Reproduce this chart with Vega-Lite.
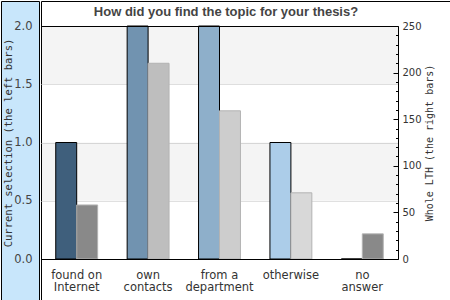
{
  "$schema": "https://vega.github.io/schema/vega-lite/v6.json",
  "padding": 0,
  "autosize": {"type": "pad"},
  "spacing": 0,
  "datasets": {
    "bars": [
      {"category": "found on Internet", "side": "current", "value": 1},
      {"category": "found on Internet", "side": "lth", "value": 58},
      {"category": "own contacts", "side": "current", "value": 3},
      {"category": "own contacts", "side": "lth", "value": 210},
      {"category": "from a department", "side": "current", "value": 3},
      {"category": "from a department", "side": "lth", "value": 159},
      {"category": "otherwise", "side": "current", "value": 1},
      {"category": "otherwise", "side": "lth", "value": 71},
      {"category": "no answer", "side": "current", "value": 0},
      {"category": "no answer", "side": "lth", "value": 27}
    ],
    "stripes": [
      {"lo": 1.5, "hi": 2},
      {"lo": 0.5, "hi": 1}
    ]
  },
  "hconcat": [
    {
      "width": 38,
      "height": 299,
      "view": {"fill": "#c8e6fb", "stroke": "black"},
      "data": {"name": "bars"},
      "mark": {"type": "point", "opacity": 0},
      "encoding": {
        "y": {
          "field": "value",
          "type": "quantitative",
          "scale": {"domain": [0, 2], "range": [258, 25], "clamp": true},
          "axis": {
            "orient": "left",
            "offset": -38,
            "values": [0, 0.5, 1, 1.5, 2],
            "format": ".1f",
            "ticks": false,
            "domain": false,
            "grid": false,
            "labelPadding": 7,
            "labelFont": "DejaVu Sans",
            "labelFontSize": 11.5,
            "labelColor": "#444",
            "title": "Current selection (the left bars)",
            "titleFont": "DejaVu Sans Mono",
            "titleFontSize": 10.5,
            "titleFontWeight": "normal",
            "titleColor": "#333",
            "titlePadding": 0
          }
        }
      }
    },
    {
      "width": 409,
      "height": 299,
      "view": {"fill": "white", "stroke": "black"},
      "title": {
        "text": "How did you find the topic for your thesis?",
        "font": "Liberation Sans",
        "fontSize": 13,
        "fontWeight": "bold",
        "color": "#444",
        "anchor": "middle",
        "frame": "group",
        "baseline": "top",
        "offset": -18,
        "dx": -19.5
      },
      "layer": [
        {
          "data": {"name": "stripes"},
          "mark": {"type": "rect", "fill": "black", "fillOpacity": 0.045},
          "encoding": {
            "x": {"datum": 0, "type": "quantitative", "scale": {"domain": [0, 1], "range": [0, 357]}, "axis": null},
            "x2": {"datum": 1},
            "y": {"field": "lo", "type": "quantitative", "scale": {"domain": [0, 2], "range": [258, 25]}, "axis": null},
            "y2": {"field": "hi"}
          }
        },
        {
          "data": {"name": "bars"},
          "transform": [{"filter": "datum.side === 'current'"}],
          "mark": {"type": "bar", "stroke": "black", "strokeWidth": 1},
          "encoding": {
            "x": {
              "field": "category",
              "type": "nominal",
              "scale": {
                "domain": ["found on Internet", "own contacts", "from a department", "otherwise", "no answer"],
                "range": [0, 357],
                "paddingInner": 0.413,
                "paddingOuter": 0.2065
              },
              "axis": {
                "orient": "bottom",
                "offset": -41,
                "title": null,
                "labelAngle": 0,
                "ticks": false,
                "domain": true,
                "domainColor": "black",
                "domainWidth": 1,
                "labelPadding": 10,
                "labelFont": "DejaVu Sans",
                "labelFontSize": 11.5,
                "labelColor": "#333",
                "labelLineHeight": 12,
                "labelExpr": "lastindexof(datum.label, ' ') > 0 ? [substring(datum.label, 0, lastindexof(datum.label, ' ')), substring(datum.label, lastindexof(datum.label, ' ') + 1)] : datum.label",
                "zindex": 1
              }
            },
            "xOffset": {"field": "side", "scale": {"domain": ["current", "lth"]}},
            "y": {
              "field": "value",
              "type": "quantitative",
              "scale": {"domain": [0, 2], "range": [258, 25], "clamp": true},
              "axis": {
                "orient": "left",
                "values": [0.5, 1, 1.5],
                "labels": false,
                "ticks": false,
                "domain": false,
                "grid": true,
                "gridColor": "#e0e0e0",
                "title": null
              }
            },
            "color": {
              "field": "category",
              "type": "nominal",
              "scale": {
                "domain": ["found on Internet", "own contacts", "from a department", "otherwise", "no answer"],
                "range": ["#3f5f7c", "#7193b0", "#8eafca", "#accde9", "#c8e0f0"]
              },
              "legend": null
            }
          }
        },
        {
          "data": {"name": "bars"},
          "transform": [{"filter": "datum.side === 'lth'"}],
          "mark": {"type": "bar", "stroke": "#b3b3b3", "strokeWidth": 1},
          "encoding": {
            "x": {
              "field": "category",
              "type": "nominal",
              "scale": {
                "domain": ["found on Internet", "own contacts", "from a department", "otherwise", "no answer"],
                "range": [0, 357],
                "paddingInner": 0.413,
                "paddingOuter": 0.2065
              },
              "axis": {
                "orient": "top",
                "offset": -25,
                "title": null,
                "labels": false,
                "ticks": false,
                "domain": true,
                "domainColor": "black",
                "domainWidth": 1,
                "minExtent": 0,
                "maxExtent": 0,
                "zindex": 1
              }
            },
            "xOffset": {"field": "side", "scale": {"domain": ["current", "lth"]}},
            "y": {
              "field": "value",
              "type": "quantitative",
              "scale": {"domain": [0, 250], "range": [258, 25]},
              "axis": {
                "orient": "right",
                "offset": -52,
                "values": [0, 10, 20, 30, 40, 50, 60, 70, 80, 90, 100, 110, 120, 130, 140, 150, 160, 170, 180, 190, 200, 210, 220, 230, 240, 250],
                "labelExpr": "datum.value % 50 === 0 ? datum.label : ''",
                "tickSize": {"condition": {"test": "datum.value % 50 === 0", "value": -5}, "value": -2.5},
                "tickColor": "black",
                "domainColor": "black",
                "grid": false,
                "labelPadding": 9,
                "labelFont": "DejaVu Sans",
                "labelFontSize": 10,
                "labelColor": "#333",
                "title": "Whole LTH (the right bars)",
                "titleAngle": 270,
                "titleFont": "DejaVu Sans Mono",
                "titleFontSize": 10,
                "titleFontWeight": "normal",
                "titleColor": "#333",
                "titlePadding": 13,
                "zindex": 1
              }
            },
            "color": {
              "field": "category",
              "type": "nominal",
              "scale": {
                "domain": ["found on Internet", "own contacts", "from a department", "otherwise", "no answer"],
                "range": ["#898989", "#bebebe", "#cdcdcd", "#d8d8d8", "#898989"]
              },
              "legend": null
            }
          }
        }
      ],
      "resolve": {"scale": {"x": "independent", "y": "independent", "color": "independent"}}
    }
  ],
  "config": {
    "axis": {"minExtent": 0},
    "concat": {"spacing": 0},
    "view": {"stroke": "black"}
  }
}
